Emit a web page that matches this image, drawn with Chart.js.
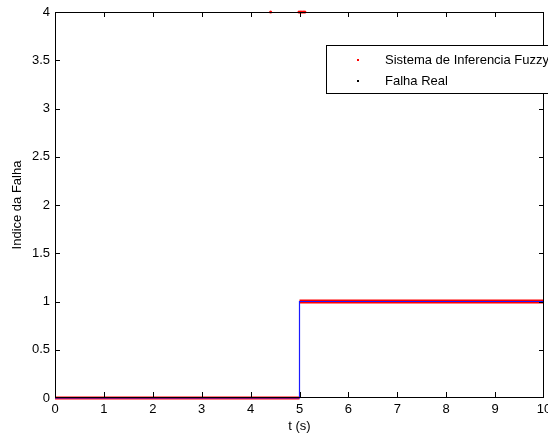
<!DOCTYPE html>
<html>
<head>
<meta charset="utf-8">
<script src="https://cdn.jsdelivr.net/npm/chart.js@4"></script>
<style>
  html, body { margin: 0; padding: 0; background: #fff; overflow: hidden; }
  #wrap { width: 548px; height: 435px; }
</style>
</head>
<body>
<div id="wrap"><canvas id="myChart"></canvas></div>
<script>
// data

const realT = [0, 5, 5, 10]
const realFalha = [0, 0, 1, 1]

const fuzzyLowT = [0, 5]
const fuzzyLowV = [0, 0]
const fuzzyHighT = [5, 10]
const fuzzyHighV = [1, 1]
const fuzzyOutT = [4.41, 4.99, 5.02, 5.05, 5.08, 5.11]
const fuzzyOutV = [4, 4, 4, 4, 4, 4]

const xTicks = [0, 1, 2, 3, 4, 5, 6, 7, 8, 9, 10]
const yTicks = [0, 0.5, 1, 1.5, 2, 2.5, 3, 3.5, 4]

const FONT = 'Liberation Sans, Arial, Helvetica, sans-serif'

function pts(xs, ys) {
    return xs.map((x, i) => ({ x: x, y: ys[i] }))
}

// frame + inward ticks on all four sides, like matlab
const framePlugin = {
    id: 'frame',
    afterDraw(chart) {
        const c = chart.ctx, a = chart.chartArea
        const xs = chart.scales.x, ys = chart.scales.y
        const L = Math.round(a.left), R = Math.round(a.right) - 1
        const T = Math.round(a.top), B = Math.round(a.bottom) - 1
        c.save()
        c.fillStyle = '#000'
        c.fillRect(L, T, R - L + 1, 1)
        c.fillRect(L, B, R - L + 1, 1)
        c.fillRect(L, T, 1, B - T + 1)
        c.fillRect(R, T, 1, B - T + 1)
        xTicks.forEach(v => {
            const px = Math.min(Math.round(xs.getPixelForValue(v)), R)
            c.fillRect(px, B - 5, 1, 5)
            c.fillRect(px, T, 1, 5)
        })
        yTicks.forEach(v => {
            const py = Math.min(Math.round(ys.getPixelForValue(v)), B)
            c.fillRect(L, py, 5, 1)
            c.fillRect(R - 4, py, 5, 1)
        })

        // legend box (clipped at the right like the original)
        const bx = 326.5, by = 45.5, bw = 240, bh = 48
        c.strokeStyle = '#000'
        c.lineWidth = 1
        c.fillStyle = '#fff'
        c.fillRect(bx, by, bw, bh)
        c.strokeRect(bx, by, bw, bh)
        c.font = '13px ' + FONT
        c.textBaseline = 'middle'
        const items = [
            { label: chart.data.datasets[0].label, color: '#ff0000', y: 60 },
            { label: chart.data.datasets[3].label, color: '#000000', y: 81 }
        ]
        items.forEach(it => {
            c.fillStyle = it.color
            c.fillRect(357, it.y - 1, 2, 2)
            c.fillStyle = '#000'
            c.fillText(it.label, 385, it.y)
        })
        c.restore()
    }
}

const ctx = document.getElementById('myChart').getContext('2d')
const myChart = new Chart(ctx, {
    type: 'scatter',
    data: {
        datasets: [{
            label: 'Sistema de Inferencia Fuzzy',
            data: pts(fuzzyLowT, fuzzyLowV),
            showLine: true,
            borderColor: '#ff0000',
            borderWidth: 3,
            pointRadius: 0,
            clip: 3,
            order: 3
        }, {
            label: 'fuzzy_high',
            data: pts(fuzzyHighT, fuzzyHighV),
            showLine: true,
            borderColor: '#ff0000',
            borderWidth: 4,
            pointRadius: 0,
            clip: 3,
            order: 3
        }, {
            label: 'fuzzy_out',
            data: pts(fuzzyOutT, fuzzyOutV),
            backgroundColor: '#ff0000',
            borderColor: '#ff0000',
            pointRadius: 1.5,
            borderWidth: 0,
            clip: false,
            order: 2
        }, {
            label: 'Falha Real',
            data: pts(realT, realFalha),
            showLine: true,
            borderColor: '#1a1aff',
            borderWidth: 1.2,
            pointRadius: 0,
            clip: 2,
            order: 1
        }]
    },
    options: {
        responsive: true,
        maintainAspectRatio: false,
        animation: false,
        layout: { padding: { top: 12, right: -2, left: 0, bottom: 0 } },
        plugins: {
            legend: { display: false },
            tooltip: { enabled: false }
        },
        scales: {
            x: {
                type: 'linear',
                min: 0,
                max: 10,
                afterFit: (s) => { s.height = 37; s.paddingLeft = 0; s.paddingRight = 0 },
                afterBuildTicks: (s) => { s.ticks = xTicks.map(v => ({ value: v })) },
                grid: { display: false, drawTicks: false },
                border: { display: false },
                ticks: {
                    color: '#000',
                    padding: 4,
                    maxRotation: 0,
                    autoSkip: false,
                    font: { family: FONT, size: 13 }
                },
                title: {
                    display: true,
                    text: 't (s)',
                    color: '#000',
                    padding: { top: 0, bottom: 1 },
                    font: { family: FONT, size: 13 }
                }
            },
            y: {
                min: 0,
                max: 4,
                afterFit: (s) => { s.width = 55; s.paddingTop = 0; s.paddingBottom = 0 },
                afterBuildTicks: (s) => { s.ticks = yTicks.map(v => ({ value: v })) },
                grid: { display: false, drawTicks: false },
                border: { display: false },
                ticks: {
                    color: '#000',
                    padding: 5,
                    autoSkip: false,
                    callback: (v) => String(v),
                    font: { family: FONT, size: 13 }
                },
                title: {
                    display: true,
                    text: 'Indice da Falha',
                    color: '#000',
                    padding: { top: 10, bottom: 0 },
                    font: { family: FONT, size: 13 }
                }
            }
        }
    },
    plugins: [framePlugin]
})
</script>
</body>
</html>
